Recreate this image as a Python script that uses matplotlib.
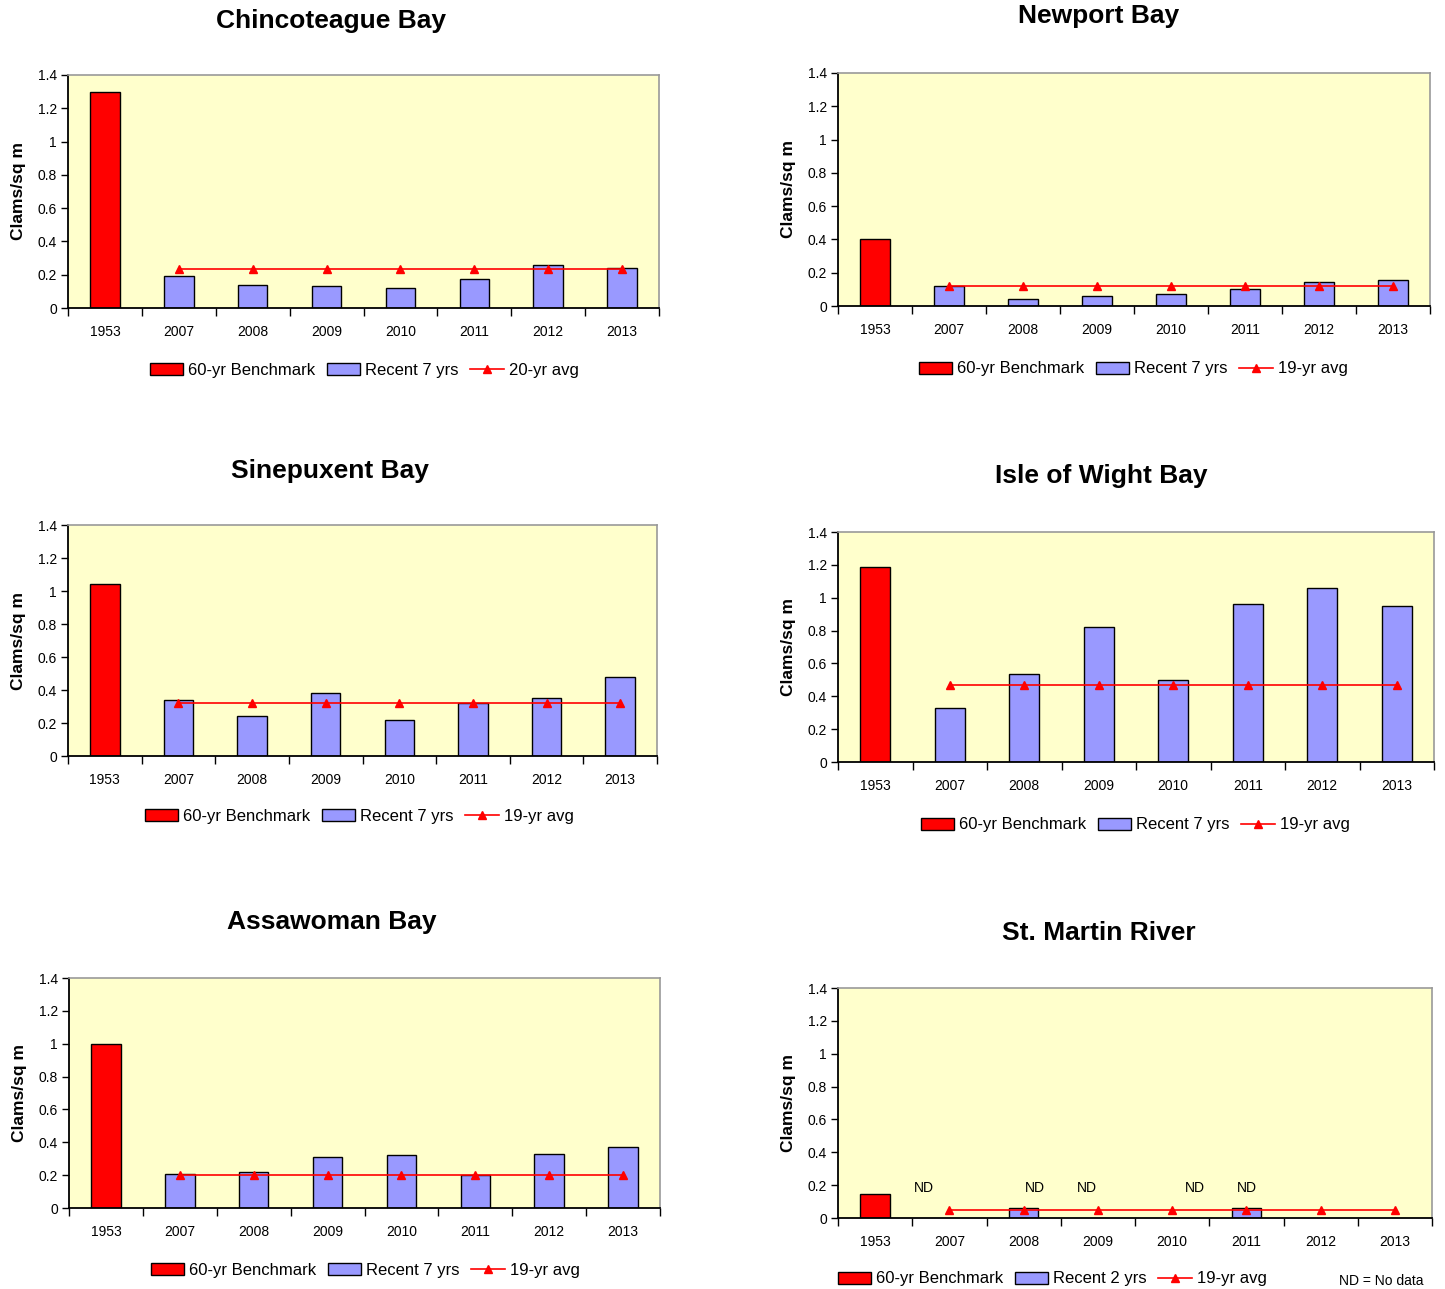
import numpy as np
import matplotlib
matplotlib.use("Agg")
import matplotlib.pyplot as plt
from matplotlib.ticker import FuncFormatter, FixedLocator

plt.rcParams["font.family"] = ["Liberation Sans", "DejaVu Sans"]

W, H = 1445, 1289

years = ["1953", "2007", "2008", "2009", "2010", "2011", "2012", "2013"]

# per-bay values: 1953 benchmark, recent years (2007-2013), long-term avg
chinco_bench = 1.30
chinco_recent = [0.195, 0.14, 0.135, 0.12, 0.175, 0.26, 0.24]
chinco_avg = 0.235

newport_bench = 0.40
newport_recent = [0.12, 0.04, 0.06, 0.075, 0.10, 0.145, 0.155]
newport_avg = 0.12

sinep_bench = 1.04
sinep_recent = [0.34, 0.24, 0.38, 0.22, 0.32, 0.35, 0.48]
sinep_avg = 0.32

wight_bench = 1.19
wight_recent = [0.33, 0.535, 0.82, 0.50, 0.96, 1.06, 0.95]
wight_avg = 0.47

assa_bench = 1.00
assa_recent = [0.21, 0.22, 0.31, 0.32, 0.20, 0.33, 0.37]
assa_avg = 0.20

stmartin_bench = 0.145
stmartin_recent = [None, 0.06, None, None, 0.06, None, None]
stmartin_avg = 0.05
# "ND" labels as placed in the original (category units)
nd_x = [0.65, 2.15, 2.85, 4.3, 5.0]

RED = "#ff0000"
BLUE = "#9999ff"
BG = "#ffffcc"

fig = plt.figure(figsize=(W / 100, H / 100), dpi=100)


def px_rect(l, t, r, b):
    return [l / W, 1 - b / H, (r - l) / W, (b - t) / H]


def panel(rect, title, title_xy, bench, recent, avg, avg_label, recent_label,
          legend_xy):
    ax = fig.add_axes(px_rect(*rect))
    ax.set_facecolor(BG)
    x = np.arange(len(years))
    b1 = ax.bar(x[0], bench, width=0.4, color=RED, edgecolor="black", lw=1,
                label="60-yr Benchmark", zorder=2)
    rv = np.array([np.nan if v is None else v for v in recent], dtype=float)
    ok = ~np.isnan(rv)
    b2 = ax.bar(x[1:][ok], rv[ok], width=0.4, color=BLUE, edgecolor="black",
                lw=1, label=recent_label, zorder=2)
    l1, = ax.plot(x[1:], [avg] * len(x[1:]), color=RED, lw=1.2, marker="^",
                  ms=6, label=avg_label, zorder=3)

    ax.set_xlim(-0.5, 7.5)
    ax.set_ylim(0, 1.4)
    ax.set_yticks(np.arange(0, 1.41, 0.2))
    ax.yaxis.set_major_formatter(FuncFormatter(lambda v, p: f"{v:g}"))
    ax.set_xticks(x)
    ax.set_xticklabels(years)
    ax.xaxis.set_minor_locator(FixedLocator(np.arange(-0.5, 7.6, 1)))
    ax.tick_params(axis="x", which="major", length=0, pad=12, labelsize=10)
    ax.tick_params(axis="x", which="minor", length=6, width=1, direction="out")
    ax.tick_params(axis="y", length=5, width=1, direction="out", labelsize=10,
                   pad=3)
    for s in ("left", "bottom"):
        ax.spines[s].set_color("black")
        ax.spines[s].set_linewidth(1.3)
    for s in ("top", "right"):
        ax.spines[s].set_color("#999999")
        ax.spines[s].set_linewidth(1.2)
    ax.set_ylabel("Clams/sq m", fontsize=12.5, fontweight="bold", labelpad=8)

    fig.text(title_xy[0] / W, 1 - title_xy[1] / H, title, fontsize=19,
             fontweight="bold", ha="center", va="center")
    ax.legend(handles=[b1, b2, l1], loc="center",
              bbox_to_anchor=(legend_xy[0] / W, 1 - legend_xy[1] / H),
              bbox_transform=fig.transFigure, ncol=3, frameon=False,
              fontsize=12, handlelength=2.0, handleheight=0.7,
              handletextpad=0.3, columnspacing=0.7, borderpad=0)
    return ax


panel((68, 75, 659, 308), "Chincoteague Bay", (331, 21), chinco_bench,
      chinco_recent, chinco_avg, "20-yr avg", "Recent 7 yrs", (364, 370))
panel((838, 73, 1430, 306), "Newport Bay", (1099, 16), newport_bench,
      newport_recent, newport_avg, "19-yr avg", "Recent 7 yrs", (1133, 369))
panel((68, 525, 657, 756), "Sinepuxent Bay", (330, 471), sinep_bench,
      sinep_recent, sinep_avg, "19-yr avg", "Recent 7 yrs", (359, 816))
panel((838, 532, 1434, 762), "Isle of Wight Bay", (1101, 476), wight_bench,
      wight_recent, wight_avg, "19-yr avg", "Recent 7 yrs", (1135, 825))
panel((69, 978, 660, 1208), "Assawoman Bay", (332, 922), assa_bench,
      assa_recent, assa_avg, "19-yr avg", "Recent 7 yrs", (365, 1270))
ax6 = panel((838, 988, 1432, 1218), "St. Martin River", (1099, 933),
            stmartin_bench, stmartin_recent, stmartin_avg, "19-yr avg",
            "Recent 2 yrs", (1052, 1279))
for xn in nd_x:
    ax6.text(xn, 0.18, "ND", fontsize=10, ha="center", va="center")
fig.text(1381 / W, 1 - 1281 / H, "ND = No data", fontsize=10, ha="center",
         va="center")

fig.savefig("out.png", dpi=100)
